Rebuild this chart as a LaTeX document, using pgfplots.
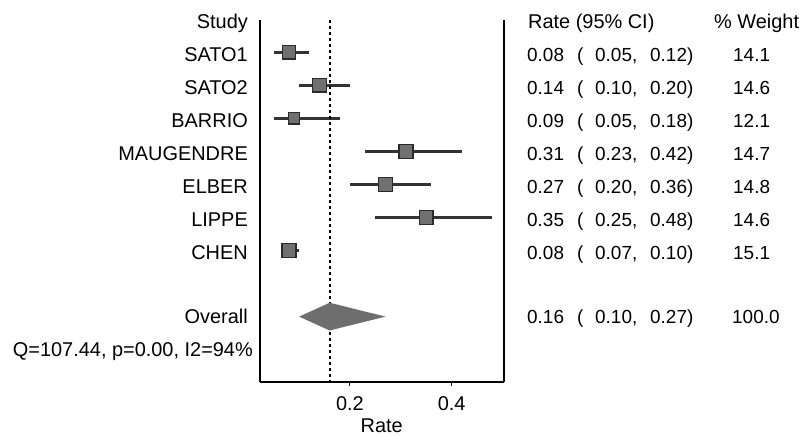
\documentclass[border=0pt]{standalone}
\usepackage{pgfplots}
\pgfplotsset{compat=1.18}
\usepackage{fontspec}
\setmainfont{Liberation Sans}
\definecolor{boxfill}{HTML}{707070}
\definecolor{boxdraw}{HTML}{2A2A2A}
\definecolor{cicol}{HTML}{333333}
\definecolor{diacol}{HTML}{6E6E6E}
\newcommand\tf{\fontsize{19}{22}\selectfont}
\newcommand\lf{\fontsize{20}{23}\selectfont}
\begin{document}
\begin{tikzpicture}
\useasboundingbox (0bp,0bp) rectangle (807bp,-436bp);
\begin{axis}[
  at={(260bp,-381.7bp)}, anchor=south west,
  scale only axis, width=243.5bp, height=361.7bp,
  xmin=0.023, xmax=0.502, ymin=-10.97, ymax=-0.023,
  axis x line=bottom, axis y line=box,
  axis line style={-, line width=2bp, black},
  xtick={0.2,0.4}, ytick=\empty,
  tick align=outside, major tick length=4bp,
  tick style={line width=1bp, black},
  /pgf/number format/assume math mode=true,
  xticklabel style={font=\lf, yshift=-7bp, /pgf/number format/fixed, /pgf/number format/precision=1},
  xlabel={Rate}, xlabel style={font=\lf, at={(axis description cs:0.5,0)}, anchor=base, yshift=-51bp},
  clip=false,
]
% confidence intervals
\addplot[cicol, line width=2.5bp] coordinates {(0.05,-1) (0.12,-1)};
\addplot[cicol, line width=2.5bp] coordinates {(0.10,-2) (0.20,-2)};
\addplot[cicol, line width=2.5bp] coordinates {(0.05,-3) (0.18,-3)};
\addplot[cicol, line width=2.5bp] coordinates {(0.23,-4) (0.42,-4)};
\addplot[cicol, line width=2.5bp] coordinates {(0.20,-5) (0.36,-5)};
\addplot[cicol, line width=2.5bp] coordinates {(0.25,-6) (0.48,-6)};
\addplot[cicol, line width=2.5bp] coordinates {(0.07,-7) (0.10,-7)};
% overall line
\addplot[black, line width=1.8bp, dash pattern=on 3bp off 3bp] coordinates {(0.16,-0.023) (0.16,-10.97)};
% markers
\pgfplotsset{mk/.style={only marks, mark=square*, mark options={fill=boxfill, draw=boxdraw, line width=1.5bp}}}
\addplot[mk, mark size=6.57bp] coordinates {(0.08,-1)};
\addplot[mk, mark size=6.80bp] coordinates {(0.14,-2)};
\addplot[mk, mark size=5.64bp] coordinates {(0.09,-3)};
\addplot[mk, mark size=6.85bp] coordinates {(0.31,-4)};
\addplot[mk, mark size=6.89bp] coordinates {(0.27,-5)};
\addplot[mk, mark size=6.80bp] coordinates {(0.35,-6)};
\addplot[mk, mark size=7.03bp] coordinates {(0.08,-7)};
% overall diamond
\addplot[fill=diacol, draw=none] coordinates {(0.10,-9) (0.16,-8.58) (0.27,-9) (0.16,-9.42)} -- cycle;
\end{axis}
\begin{scope}[every node/.style={font=\lf, inner sep=0pt}]
\node[anchor=base east] at (248bp,-28.5bp) {Study};
\node[anchor=base east] at (248bp,-61.3bp) {SATO1};
\node[anchor=base east] at (248bp,-94.4bp) {SATO2};
\node[anchor=base east] at (248bp,-127.4bp) {BARRIO};
\node[anchor=base east] at (248bp,-160.5bp) {MAUGENDRE};
\node[anchor=base east] at (248bp,-193.6bp) {ELBER};
\node[anchor=base east] at (248bp,-226.6bp) {LIPPE};
\node[anchor=base east] at (248bp,-259.7bp) {CHEN};
\node[anchor=base east] at (248bp,-323.3bp) {Overall};
\node[anchor=base east] at (253bp,-356bp) {Q=107.44, p=0.00, I2=94\%};
\node[anchor=base west] at (528bp,-28.5bp) {Rate (95\% CI)};
\node[anchor=base west] at (714bp,-28.5bp) {\% Weight};
\end{scope}
\begin{scope}[every node/.style={font=\tf, inner sep=0pt}]
\foreach \y/\r/\lo/\hi/\w in {61.3/0.08/0.05/0.12/14.1, 94.4/0.14/0.10/0.20/14.6, 127.4/0.09/0.05/0.18/12.1, 160.5/0.31/0.23/0.42/14.7, 193.6/0.27/0.20/0.36/14.8, 226.6/0.35/0.25/0.48/14.6, 259.7/0.08/0.07/0.10/15.1}{
  \node[anchor=base west] at (527bp,-\y bp) {\r};
  \node[anchor=base west] at (577bp,-\y bp) {(};
  \node[anchor=base west] at (595bp,-\y bp) {\lo,};
  \node[anchor=base west] at (650bp,-\y bp) {\hi)};
  \node[anchor=base west] at (733bp,-\y bp) {\w};
}
\node[anchor=base west] at (527bp,-323bp) {0.16};
\node[anchor=base west] at (577bp,-323bp) {(};
\node[anchor=base west] at (595bp,-323bp) {0.10,};
\node[anchor=base west] at (650bp,-323bp) {0.27)};
\node[anchor=base west] at (732bp,-323bp) {100.0};
\end{scope}
\end{tikzpicture}
\end{document}
